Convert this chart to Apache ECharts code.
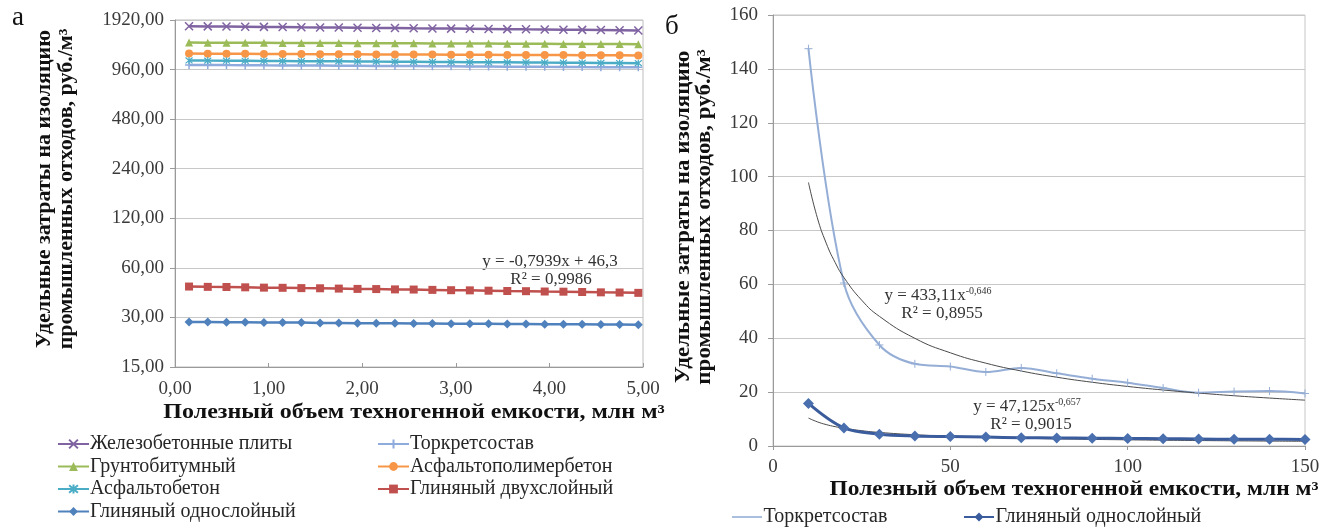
<!DOCTYPE html>
<html>
<head>
<meta charset="utf-8">
<script src="https://cdn.jsdelivr.net/npm/echarts@6/dist/echarts.min.js"></script>
<style>
html, body { margin: 0; padding: 0; background: #fff; }
#chart { width: 1331px; height: 527px; }
</style>
</head>
<body>
<div id="chart"></div>
<script>
// ---------- Panel "а": cost vs. volume, 0–5 mln m³ (log2 cost axis) ----------
const volumeA = [0.15, 0.35, 0.55, 0.75, 0.95, 1.15, 1.35, 1.55, 1.75, 1.95, 2.15, 2.35, 2.55,
                 2.75, 2.95, 3.15, 3.35, 3.55, 3.75, 3.95, 4.15, 4.35, 4.55, 4.75, 4.95];
const zhbPlity = [1760, 1756, 1752, 1748, 1744, 1740, 1735, 1731, 1727, 1723, 1719, 1715, 1710,
                  1706, 1702, 1698, 1694, 1690, 1685, 1681, 1677, 1673, 1669, 1665, 1660];
const torkretA = [1025, 1024, 1022, 1021, 1019, 1018, 1016, 1015, 1013, 1012, 1010, 1009, 1008,
                  1006, 1005, 1003, 1002, 1000, 999, 997, 996, 994, 993, 991, 990];
const gruntobitum = [1400, 1399, 1397, 1396, 1395, 1394, 1392, 1391, 1390, 1389, 1387, 1386, 1385,
                     1384, 1382, 1381, 1380, 1379, 1377, 1376, 1375, 1374, 1372, 1371, 1370];
const asfPolimer = [1200, 1199, 1197, 1196, 1195, 1194, 1192, 1191, 1190, 1189, 1187, 1186, 1185,
                    1184, 1182, 1181, 1180, 1179, 1177, 1176, 1175, 1174, 1172, 1171, 1170];
const asfBeton = [1090, 1088, 1087, 1085, 1083, 1082, 1080, 1078, 1077, 1075, 1073, 1072, 1070,
                  1068, 1067, 1065, 1063, 1062, 1060, 1058, 1057, 1055, 1053, 1052, 1050];
const glinaDvuh = [46.2, 46.0, 45.9, 45.7, 45.5, 45.4, 45.2, 45.1, 44.9, 44.7, 44.6, 44.4, 44.3,
                   44.1, 43.9, 43.8, 43.6, 43.4, 43.3, 43.1, 43.0, 42.8, 42.6, 42.5, 42.3];
const glinaOdnA = [28.1, 28.1, 28.0, 28.0, 27.9, 27.9, 27.9, 27.8, 27.8, 27.7, 27.7, 27.7, 27.6,
                   27.6, 27.5, 27.5, 27.5, 27.4, 27.4, 27.3, 27.3, 27.3, 27.2, 27.2, 27.1];
// linear trend of the two-layer clay series: y = -0,7939x + 46,3
const trendDvuhX = [0.15, 4.95];
const trendDvuhY = [46.18, 42.37];
const costTicksA = [15, 30, 60, 120, 240, 480, 960, 1920];

// ---------- Panel "б": cost vs. volume, 10–150 mln m³ ----------
const volumeB = [10, 20, 30, 40, 50, 60, 70, 80, 90, 100, 110, 120, 130, 140, 150];
const torkretB = [147.5, 60.5, 37.5, 30.5, 29.5, 27.5, 29.0, 27.0, 25.0, 23.5, 21.5, 19.8, 20.2, 20.4, 19.5];
const glinaOdnB = [15.8, 6.7, 4.4, 3.7, 3.5, 3.3, 3.1, 3.0, 2.9, 2.8, 2.7, 2.6, 2.5, 2.5, 2.4];
// power trends: y = 433,11x^-0,646 and y = 47,125x^-0,657
const trendX = [10, 12.5, 15, 17.5, 20, 25, 30, 40, 50, 60, 70, 80, 90, 100, 110, 120, 130, 140, 150];
const trendTorkret = [97.84, 84.73, 75.31, 68.18, 62.53, 54.14, 48.13, 39.97, 34.60, 30.75, 27.84,
                      25.54, 23.67, 22.11, 20.79, 19.66, 18.66, 17.80, 17.02];
const trendGlina = [10.38, 8.97, 7.95, 7.19, 6.58, 5.69, 5.04, 4.18, 3.61, 3.20, 2.89,
                    2.65, 2.45, 2.29, 2.15, 2.03, 1.92, 1.83, 1.75];

const zip = (xs, ys) => xs.map((x, i) => [x, ys[i]]);
const comma = (v, d) => v.toFixed(d).replace('.', ',');

const FONT = '"Liberation Serif", "Times New Roman", serif';
const SYM_X = 'path://M0,0L10,10M10,0L0,10';
const SYM_PLUS = 'path://M5,0L5,10M0,5L10,5';
const SYM_STAR = 'path://M0,0L10,10M10,0L0,10M5,-1L5,11';

function lineA(name, data, color, symbol, size, extra) {
  return Object.assign({
    name: name, type: 'line', xAxisIndex: 0, yAxisIndex: 0,
    data: zip(volumeA, data), symbol: symbol, symbolSize: size,
    lineStyle: { color: color, width: 2.5 },
    itemStyle: { color: color },
    emphasis: { disabled: true }, animation: false
  }, extra || {});
}

const labelText = { color: '#3a3a3a', fontFamily: FONT, fontSize: 19 };
const legendText = { fontFamily: FONT, fontSize: 20, color: '#262626', lineHeight: 20, padding: [0, 0, 0, -4] };
const titleBold = { fontFamily: FONT, fontSize: 20, fontWeight: 'bold', fill: '#111' };
const eqStyle = { fontFamily: FONT, fontSize: 17, fill: '#333' };

function rich(main, sup) {
  return {
    text: '{b|' + main + '}{s|' + sup + '}', align: 'center', verticalAlign: 'middle',
    rich: {
      b: { fontFamily: FONT, fontSize: 17, fill: '#333' },
      s: { fontFamily: FONT, fontSize: 10, fill: '#333', padding: [0, 0, 10, 0] }
    }
  };
}

const chart = echarts.init(document.getElementById('chart'), null, { renderer: 'canvas' });

chart.setOption({
  backgroundColor: '#fff',
  animation: false,
  grid: [
    { left: 175, top: 20, width: 468, height: 347, show: true, borderColor: '#bdbdbd', borderWidth: 1, containLabel: false },
    { left: 773, top: 15, width: 532, height: 431, show: true, borderColor: '#c6c6c6', borderWidth: 1, containLabel: false }
  ],
  xAxis: [
    {
      gridIndex: 0, type: 'value', min: 0, max: 5, interval: 1,
      axisLine: { lineStyle: { color: '#9a9a9a' } },
      axisTick: { show: true, length: 4, inside: true, lineStyle: { color: '#9a9a9a' } },
      axisLabel: Object.assign({ margin: 13, formatter: v => comma(v, 2) }, labelText),
      splitLine: { show: false }
    },
    {
      gridIndex: 1, type: 'value', min: 0, max: 150, interval: 50,
      axisLine: { lineStyle: { color: '#9a9a9a' } },
      axisTick: { show: true, length: 4, lineStyle: { color: '#9a9a9a' } },
      axisLabel: Object.assign({ margin: 12 }, labelText),
      splitLine: { show: false }
    }
  ],
  yAxis: [
    {
      gridIndex: 0, type: 'log', logBase: 2, min: 15, max: 1920,
      axisLine: { show: true, lineStyle: { color: '#9a9a9a' } },
      axisTick: { show: true, length: 5, customValues: costTicksA, lineStyle: { color: '#9a9a9a' } },
      axisLabel: Object.assign({ margin: 11, customValues: costTicksA, formatter: v => comma(v, 2) }, labelText),
      splitLine: { show: true, lineStyle: { color: '#c8c8c8' } }
    },
    {
      gridIndex: 1, type: 'value', min: 0, max: 160, interval: 20,
      axisLine: { show: true, lineStyle: { color: '#9a9a9a' } },
      axisTick: { show: true, length: 5, lineStyle: { color: '#9a9a9a' } },
      axisLabel: Object.assign({ margin: 15 }, labelText),
      splitLine: { show: true, lineStyle: { color: '#c8c8c8' } }
    }
  ],
  legend: [
    {
      left: 57, top: 434, padding: 0, orient: 'vertical', itemWidth: 31, itemHeight: 11, itemGap: 2.5,
      textStyle: legendText, selectedMode: false,
      data: ['Железобетонные плиты', 'Грунтобитумный', 'Асфальтобетон', 'Глиняный однослойный']
    },
    {
      left: 377, top: 434, padding: 0, orient: 'vertical', itemWidth: 31, itemHeight: 11, itemGap: 2.5,
      textStyle: legendText, selectedMode: false,
      data: ['Торкретсостав', 'Асфальтополимербетон', 'Глиняный двухслойный']
    },
    {
      left: 732, top: 507, padding: 0, orient: 'horizontal', itemWidth: 31, itemHeight: 12,
      textStyle: legendText, selectedMode: false,
      data: [{
        name: 'Торкретсостав',
        icon: 'path://M0,0M30,12M0,5.2H30V6.8H0Z',
        itemStyle: { color: '#95aed6', borderWidth: 0 }
      }]
    },
    {
      left: 964, top: 507, padding: 0, orient: 'horizontal', itemWidth: 31, itemHeight: 12,
      textStyle: legendText, selectedMode: false,
      data: [{
        name: 'Глиняный однослойный',
        icon: 'path://M0,0M30,12M0,5H30V7H0Z M15,1.5L19.5,6L15,10.5L10.5,6Z',
        itemStyle: { color: '#3b5c9c', borderWidth: 0 }
      }]
    }
  ],
  series: [
    lineA('Железобетонные плиты', zhbPlity, '#8064a2', SYM_X, 8,
      { itemStyle: { color: '#8064a2', borderColor: '#8064a2', borderWidth: 1.5 } }),
    lineA('Торкретсостав', torkretA, '#8faadc', SYM_PLUS, 8,
      { itemStyle: { color: '#8faadc', borderColor: '#8faadc', borderWidth: 1.5 } }),
    lineA('Грунтобитумный', gruntobitum, '#9bbb59', 'triangle', 8),
    lineA('Асфальтополимербетон', asfPolimer, '#f79646', 'circle', 8),
    lineA('Асфальтобетон', asfBeton, '#4bacc6', SYM_STAR, 7,
      { itemStyle: { color: '#4bacc6', borderColor: '#4bacc6', borderWidth: 1.2 } }),
    lineA('Глиняный двухслойный', glinaDvuh, '#c0504d', 'rect', 8),
    lineA('Глиняный однослойный', glinaOdnA, '#4f81bd', 'diamond', 9),
    {
      name: 'trendDvuh', type: 'line', xAxisIndex: 0, yAxisIndex: 0,
      data: zip(trendDvuhX, trendDvuhY), symbol: 'none', z: 1,
      lineStyle: { color: '#333', width: 1 }, emphasis: { disabled: true }
    },
    {
      name: 'Торкретсостав', type: 'line', xAxisIndex: 1, yAxisIndex: 1,
      data: zip(volumeB, torkretB), smooth: 0.35, symbol: SYM_PLUS, symbolSize: 8,
      lineStyle: { color: '#95aed6', width: 2 },
      itemStyle: { color: '#95aed6', borderColor: '#95aed6', borderWidth: 1 },
      emphasis: { disabled: true }
    },
    {
      name: 'trendTorkret', type: 'line', xAxisIndex: 1, yAxisIndex: 1,
      data: zip(trendX, trendTorkret), smooth: true, symbol: 'none',
      lineStyle: { color: '#4a4a4a', width: 1 }, emphasis: { disabled: true }
    },
    {
      name: 'Глиняный однослойный', type: 'line', xAxisIndex: 1, yAxisIndex: 1,
      data: zip(volumeB, glinaOdnB), smooth: 0.35, symbol: 'diamond', symbolSize: 11,
      lineStyle: { color: '#3b5c9c', width: 3 },
      itemStyle: { color: '#4a6fae' },
      emphasis: { disabled: true }
    },
    {
      name: 'trendGlina', type: 'line', xAxisIndex: 1, yAxisIndex: 1,
      data: zip(trendX, trendGlina), smooth: true, symbol: 'none', z: 1,
      lineStyle: { color: '#4a4a4a', width: 1 }, emphasis: { disabled: true }
    }
  ],
  graphic: [
    { type: 'text', left: 12, top: 4, style: { text: 'а', fontFamily: FONT, fontSize: 27, fill: '#111' } },
    { type: 'text', left: 665, top: 13, style: { text: 'б', fontFamily: FONT, fontSize: 27, fill: '#111' } },
    // axis titles, panel а
    { type: 'text', x: 45, y: 189, rotation: Math.PI / 2, scaleX: 1.1,
      style: Object.assign({ text: 'Удельные затраты на изоляцию', align: 'center', verticalAlign: 'middle' }, titleBold) },
    { type: 'text', x: 67, y: 189, rotation: Math.PI / 2, scaleX: 1.1,
      style: Object.assign({ text: 'промышленных отходов, руб./м³', align: 'center', verticalAlign: 'middle' }, titleBold) },
    { type: 'text', x: 414, y: 413, scaleX: 1.2,
      style: Object.assign({ text: 'Полезный объем техногенной емкости, млн м³', align: 'center', verticalAlign: 'middle' }, titleBold) },
    // axis titles, panel б
    { type: 'text', x: 684, y: 217, rotation: Math.PI / 2, scaleX: 1.15,
      style: Object.assign({ text: 'Удельные затраты на изоляцию', align: 'center', verticalAlign: 'middle' }, titleBold) },
    { type: 'text', x: 705, y: 217, rotation: Math.PI / 2, scaleX: 1.15,
      style: Object.assign({ text: 'промышленных отходов, руб./м³', align: 'center', verticalAlign: 'middle' }, titleBold) },
    { type: 'text', x: 1074, y: 490, scaleX: 1.17,
      style: Object.assign({ text: 'Полезный объем техногенной емкости, млн м³', align: 'center', verticalAlign: 'middle' }, titleBold) },
    // trend equations
    { type: 'text', x: 550, y: 262, style: Object.assign({ text: 'y = -0,7939x + 46,3', align: 'center', verticalAlign: 'middle' }, eqStyle) },
    { type: 'text', x: 551, y: 280, style: Object.assign({ text: 'R² = 0,9986', align: 'center', verticalAlign: 'middle' }, eqStyle) },
    { type: 'text', x: 938, y: 296, style: rich('y = 433,11x', '-0,646') },
    { type: 'text', x: 942, y: 314, style: Object.assign({ text: 'R² = 0,8955', align: 'center', verticalAlign: 'middle' }, eqStyle) },
    { type: 'text', x: 1027, y: 407, style: rich('y = 47,125x', '-0,657') },
    { type: 'text', x: 1031, y: 425, style: Object.assign({ text: 'R² = 0,9015', align: 'center', verticalAlign: 'middle' }, eqStyle) }
  ]
});
</script>
</body>
</html>
